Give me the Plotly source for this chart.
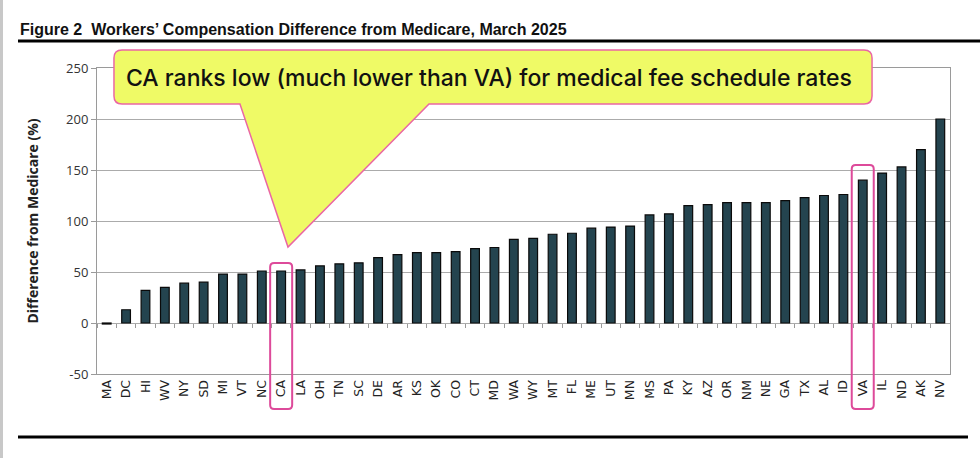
import plotly.graph_objects as go

# States ranked by workers' comp fee schedule difference from Medicare (%)
states = ["MA", "DC", "HI", "WV", "NY", "SD", "MI", "VT", "NC", "CA", "LA", "OH", "TN", "SC",
          "DE", "AR", "KS", "OK", "CO", "CT", "MD", "WA", "WY", "MT", "FL", "ME", "UT", "MN",
          "MS", "PA", "KY", "AZ", "OR", "NM", "NE", "GA", "TX", "AL", "ID", "VA", "IL", "ND",
          "AK", "NV"]
diff_pct = [-1, 13, 32, 35, 39, 40, 48, 48, 51, 51, 52, 56, 58, 59,
            64, 67, 69, 69, 70, 73, 74, 82, 83, 87, 88, 93, 94, 95,
            106, 107, 115, 116, 118, 118, 118, 120, 123, 125, 126, 140, 147, 153,
            170, 200]
y_ticks = [-50, 0, 50, 100, 150, 200, 250]
y_tick_labels = [str(v) for v in y_ticks]  # plain hyphen for -50, as in the source

title_text = "Figure 2  Workers\u2019 Compensation Difference from Medicare, March 2025"
callout_text = "CA ranks low (much lower than VA) for medical fee schedule rates"
highlight = ["CA", "VA"]

W, H = 980, 458
L, R, T, B = 97, 30, 68, 84
PW, PH = W - L - R, H - T - B


def px(x):
    return (x - L) / PW


def py(y):
    return (H - B - y) / PH


def path_from_px(points):
    parts = []
    for cmd, *xy in points:
        coords = " ".join(f"{px(xy[i]):.4f},{py(xy[i + 1]):.4f}" for i in range(0, len(xy), 2))
        parts.append(f"{cmd} {coords}")
    return " ".join(parts) + " Z"


def rounded_box(x0, y0, x1, y1, r):
    return path_from_px([
        ("M", x0 + r, y0), ("L", x1 - r, y0), ("Q", x1, y0, x1, y0 + r),
        ("L", x1, y1 - r), ("Q", x1, y1, x1 - r, y1), ("L", x0 + r, y1),
        ("Q", x0, y1, x0, y1 - r), ("L", x0, y0 + r), ("Q", x0, y0, x0 + r, y0),
    ])


fig = go.Figure()
fig.add_trace(go.Bar(x=states, y=diff_pct, marker=dict(color="#24444F", line=dict(color="#0A0A0A", width=1.2)),
                     width=0.45, showlegend=False, hoverinfo="x+y"))
# invisible trace so the category tick axis at y=0 renders
fig.add_trace(go.Scatter(x=states, y=[0] * len(states), xaxis="x2", mode="none", showlegend=False,
                         hoverinfo="skip"))

shapes = []
# callout bubble (box + pointer) drawn in pixel space
callout = [
    ("M", 122, 50), ("L", 864, 50), ("Q", 872, 50, 872, 58), ("L", 872, 96),
    ("Q", 872, 104, 864, 104), ("L", 429, 104), ("L", 288, 247), ("L", 240, 104),
    ("L", 122, 104), ("Q", 114, 104, 114, 96), ("L", 114, 58), ("Q", 114, 50, 122, 50),
]
shapes.append(dict(type="path", xref="paper", yref="paper", path=path_from_px(callout),
                   fillcolor="#EFFA66", line=dict(color="#EA67A4", width=1.5), layer="above"))

# highlight boxes around CA and VA
n = len(states)
tops = {"CA": 263, "VA": 165}
for st in highlight:
    i = states.index(st)
    cx = L + (i + 0.5) * PW / n
    shapes.append(dict(type="path", xref="paper", yref="paper",
                       path=rounded_box(cx - 11, tops[st], cx + 11, 409, 4),
                       line=dict(color="#DD4A9A", width=2), fillcolor="rgba(0,0,0,0)", layer="above"))

# rules above and below the figure, and grey page edge
shapes.append(dict(type="line", xref="paper", yref="paper", x0=px(18), x1=px(982), y0=py(41), y1=py(41),
                   line=dict(color="black", width=3)))
shapes.append(dict(type="line", xref="paper", yref="paper", x0=px(18), x1=px(968), y0=py(437), y1=py(437),
                   line=dict(color="black", width=3)))
shapes.append(dict(type="rect", xref="paper", yref="paper", x0=px(-2), x1=px(3), y0=py(470), y1=py(-10),
                   fillcolor="#C8C8C8", line=dict(width=0)))

fig.update_layout(
    width=W, height=H,
    margin=dict(l=L, r=R, t=T, b=B, autoexpand=False),
    paper_bgcolor="white", plot_bgcolor="white",
    font=dict(family="Open Sans, DejaVu Sans, sans-serif", color="#222222"),
    title=dict(text=f"<b>{title_text}</b>", x=20 / W, xref="container", xanchor="left",
               y=1 - 29 / H, yref="container", yanchor="middle", pad=dict(l=0, r=0, t=0, b=0),
               font=dict(family="Liberation Sans Narrow, Liberation Sans, sans-serif", size=16, color="#111111")),
    bargap=0.55,
    xaxis=dict(type="category", showgrid=False, ticks="", tickangle=-90, showline=True, linecolor="#9A9A9A",
               linewidth=1, mirror=True, tickfont=dict(family="DejaVu Sans", size=12.5, color="#222222"),
               range=[-0.5, n - 0.5], fixedrange=True, automargin=False),
    xaxis2=dict(type="category", overlaying="x", matches="x", anchor="free", position=50 / 300,
                showticklabels=False, ticks="outside", ticklen=4, tickcolor="#9A9A9A", tickson="boundaries",
                showline=False, showgrid=False, automargin=False),
    yaxis=dict(range=[-50, 250], tickvals=y_ticks, ticktext=y_tick_labels, showgrid=True, gridcolor="#ABABAB",
               gridwidth=1, zeroline=True, zerolinecolor="#ABABAB", zerolinewidth=1, showline=True,
               linecolor="#9A9A9A", mirror=True, ticks="outside", ticklen=5, tickcolor="#9A9A9A",
               automargin=False, tickfont=dict(family="Open Sans", size=13, color="#333333"),
               title=dict(text="<b>Difference from Medicare (%)</b>", standoff=24,
                          font=dict(family="Open Sans", size=14, color="#222222"))),
    shapes=shapes,
    annotations=[dict(text=callout_text, xref="paper", yref="paper", x=px(489), y=py(78),
                      showarrow=False, xanchor="center", yanchor="middle",
                      font=dict(family="Inter", size=23, weight=500, color="#111111"))],
)

# page body has a default 8px margin; drop it so the figure sits at the window origin
fig.write_html("out.html", config={"displayModeBar": False},
               post_script="document.body.style.margin='0';")
